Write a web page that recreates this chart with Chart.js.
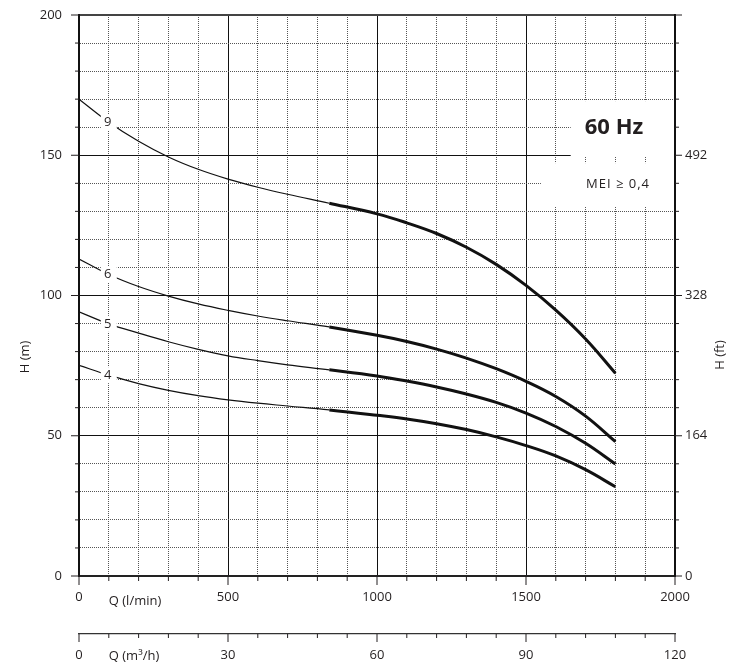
<!DOCTYPE html>
<html>
<head>
<meta charset="utf-8">
<script src="https://cdn.jsdelivr.net/npm/chart.js@4.4.1/dist/chart.umd.min.js"></script>
<style>
body { margin: 0; background: #fff; }
</style>
</head>
<body>
<canvas id="pumpChart" width="741" height="671"></canvas>
<script>
var flow = [0, 100, 200, 300, 400, 500, 600, 700, 840, 1000, 1100, 1200, 1300, 1400, 1500, 1600, 1700, 1800];
// head (m) for each stage count
var head9 = [170, 161.8, 155.0, 149.4, 145.0, 141.5, 138.6, 136.1, 132.9, 129.1, 125.9, 122.1, 117.2, 111.1, 103.6, 94.8, 84.5, 72.3];
var head6 = [113, 107.5, 103.2, 99.8, 97.0, 94.7, 92.7, 91.0, 88.8, 85.8, 83.6, 80.9, 77.7, 73.9, 69.4, 64.0, 57.0, 47.9];
var head5 = [94.2, 89.9, 86.6, 83.5, 80.8, 78.5, 76.8, 75.3, 73.5, 71.3, 69.5, 67.4, 64.9, 61.9, 58.1, 53.3, 47.3, 39.9];
var head4 = [75.1, 71.6, 68.6, 66.2, 64.3, 62.8, 61.6, 60.6, 59.2, 57.3, 56.0, 54.3, 52.2, 49.6, 46.5, 42.8, 37.9, 31.8];
var stages = ['9', '6', '5', '4'];
var thickFrom = 840; // working range drawn heavy from here

// axis labels
var headMajor = [0, 50, 100, 150, 200];
var feetLabels = ['0', '164', '328', '492', ''];
var flowMajor = [0, 500, 1000, 1500, 2000];
var m3hMajor = [0, 30, 60, 90, 120];

var ink = '#231f20';
var tickFont = { family: 'Open Sans', size: 13 };

function pts(heads) {
    return flow.map(function (q, i) { return { x: q, y: heads[i] }; });
}

function curve(heads) {
    return {
        data: pts(heads),
        borderColor: '#111',
        borderWidth: 1.2,
        pointRadius: 0,
        tension: 0.4,
        segment: {
            borderWidth: function (ctx) { return ctx.p0.parsed.x >= thickFrom ? 3 : 1.2; }
        }
    };
}

function isMajor(list, v) { return list.indexOf(v) !== -1; }

// keep the vertical axes from padding the plot top
function fitVertical(width) {
    return function (s) {
        s.width = width;
        s.paddingTop = 0;
        s.paddingBottom = 0;
    };
}

var decor = {
    id: 'decor',
    beforeDatasetsDraw: function (chart) {
        var c = chart.ctx, s = chart.scales, a = chart.chartArea;
        // white patch behind the frequency note
        c.save();
        c.fillStyle = '#fff';
        var x1 = s.x.getPixelForValue(1650), x2 = s.x.getPixelForValue(1550);
        c.fillRect(x1, s.y.getPixelForValue(169.3), a.right - 1 - x1, s.y.getPixelForValue(149.4) - s.y.getPixelForValue(169.3));
        c.fillRect(x2, s.y.getPixelForValue(147.2), a.right - 1 - x2, s.y.getPixelForValue(131.6) - s.y.getPixelForValue(147.2));
        c.restore();
    },
    afterDatasetsDraw: function (chart) {
        var c = chart.ctx, s = chart.scales;
        c.save();
        c.font = '13px "Open Sans"';
        c.textAlign = 'center';
        c.textBaseline = 'middle';
        chart.data.datasets.forEach(function (ds, i) {
            var px = s.x.getPixelForValue(ds.data[1].x), py = s.y.getPixelForValue(ds.data[1].y);
            c.fillStyle = '#fff';
            c.fillRect(px - 8, py - 8, 16, 16);
            c.fillStyle = ink;
            c.fillText(stages[i], px - 1, py);
        });
        c.restore();
    },
    afterDraw: function (chart) {
        var c = chart.ctx, s = chart.scales, a = chart.chartArea;
        c.save();
        c.strokeStyle = ink;
        c.lineWidth = 1;
        function seg(x1, y1, x2, y2) {
            c.beginPath(); c.moveTo(x1, y1); c.lineTo(x2, y2); c.stroke();
        }
        s.y.ticks.forEach(function (t) {
            var p = s.y.getPixelForValue(t.value), big = isMajor(headMajor, t.value);
            seg(a.left - (big ? 8 : 4), p, a.left, p);
            seg(a.right, p, a.right + (big ? 7 : 4), p);
        });
        s.x.ticks.forEach(function (t) {
            var p = s.x.getPixelForValue(t.value), big = isMajor(flowMajor, t.value);
            seg(p, a.bottom, p, a.bottom + (big ? 9 : 5));
        });
        s.x2.ticks.forEach(function (t) {
            var p = s.x2.getPixelForValue(t.value), big = isMajor(m3hMajor, t.value);
            seg(p, s.x2.top, p, s.x2.top + (big ? 8 : 4));
        });

        // axis titles
        c.fillStyle = ink;
        c.font = '13px "Open Sans"';
        c.textBaseline = 'middle';
        c.textAlign = 'left';
        c.fillText('Q (l/min)', s.x.getPixelForValue(100), 601);
        c.fillText('Q (m\u00b3/h)', s.x2.getPixelForValue(6), 656);
        c.textAlign = 'center';
        c.save();
        c.translate(25, 357);
        c.rotate(-Math.PI / 2);
        c.fillText('H (m)', 0, 0);
        c.restore();
        c.save();
        c.translate(720, 355);
        c.rotate(-Math.PI / 2);
        c.fillText('H (ft)', 0, 0);
        c.restore();

        // frequency note
        c.font = 'bold 22px "Open Sans"';
        c.fillText('60 Hz', 614, 128);
        c.font = '13px "Open Sans"';
        c.letterSpacing = '1px';
        c.fillText('MEI \u2265 0,4', 618, 184);
        c.restore();
    }
};

var chart = new Chart(document.getElementById('pumpChart').getContext('2d'), {
    type: 'line',
    data: {
        datasets: [curve(head9), curve(head6), curve(head5), curve(head4)]
    },
    options: {
        responsive: false,
        animation: false,
        devicePixelRatio: 1,
        layout: { padding: { top: 15, left: 0, right: 0, bottom: 0 } },
        plugins: {
            legend: { display: false },
            tooltip: { enabled: false }
        },
        scales: {
            x: {
                type: 'linear',
                position: 'bottom',
                weight: 0,
                min: 0,
                max: 2000,
                afterFit: function (s) { s.height = 58; },
                grid: {
                    drawTicks: false,
                    color: function (ctx) { return isMajor(flowMajor, ctx.tick.value) ? '#111' : '#555'; },
                    lineWidth: function (ctx) { return ctx.tick.value === 2000 ? 2 : 1; }
                },
                border: {
                    color: '#222',
                    width: 2,
                    dash: function (ctx) { return ctx.tick && !isMajor(flowMajor, ctx.tick.value) ? [1, 1] : []; }
                },
                ticks: {
                    stepSize: 100,
                    autoSkip: false,
                    maxRotation: 0,
                    padding: 13,
                    color: ink,
                    font: tickFont,
                    callback: function (v) { return isMajor(flowMajor, v) ? String(v) : ''; }
                }
            },
            x2: {
                type: 'linear',
                position: 'bottom',
                weight: 1,
                min: 0,
                max: 120,
                afterFit: function (s) { s.height = 37; },
                grid: { drawOnChartArea: false, drawTicks: false },
                border: { color: '#333', width: 1.3 },
                ticks: {
                    stepSize: 6,
                    autoSkip: false,
                    maxRotation: 0,
                    padding: 13,
                    color: ink,
                    font: tickFont,
                    callback: function (v) { return isMajor(m3hMajor, v) ? String(v) : ''; }
                }
            },
            y: {
                type: 'linear',
                position: 'left',
                min: 0,
                max: 200,
                afterFit: fitVertical(79),
                grid: {
                    drawTicks: false,
                    color: function (ctx) { return isMajor(headMajor, ctx.tick.value) ? (ctx.tick.value === 200 ? '#444' : '#111') : '#555'; },
                    lineWidth: function (ctx) { return ctx.tick.value === 200 ? 2 : 1; }
                },
                border: {
                    color: '#111',
                    width: 2,
                    dash: function (ctx) { return ctx.tick && !isMajor(headMajor, ctx.tick.value) ? [1, 1] : []; }
                },
                ticks: {
                    stepSize: 10,
                    autoSkip: false,
                    padding: 17,
                    color: ink,
                    font: tickFont,
                    callback: function (v) { return isMajor(headMajor, v) ? String(v) : ''; }
                }
            },
            y2: {
                type: 'linear',
                position: 'right',
                min: 0,
                max: 200,
                afterFit: fitVertical(66),
                grid: { drawOnChartArea: false, drawTicks: false },
                border: { color: '#111', width: 2 },
                ticks: {
                    stepSize: 10,
                    autoSkip: false,
                    padding: 10,
                    color: ink,
                    font: tickFont,
                    callback: function (v) {
                        var k = headMajor.indexOf(v);
                        return k !== -1 ? feetLabels[k] : '';
                    }
                }
            }
        }
    },
    plugins: [decor]
});
</script>
</body>
</html>
